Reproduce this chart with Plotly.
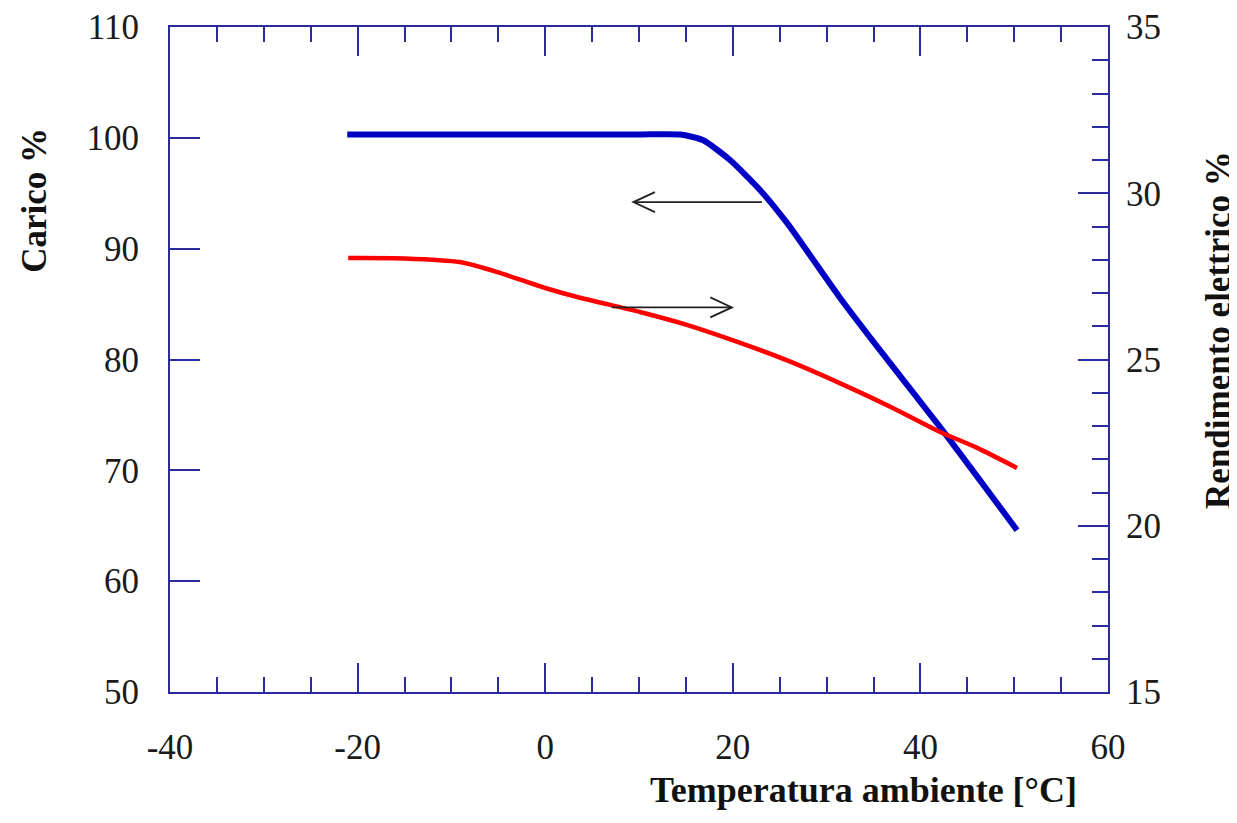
import plotly.graph_objects as go

# Data
temp_carico = [-21.1, -10.0, 0.0, 10.0, 14.4, 16.8, 19.7, 22.9, 25.8, 31.4, 36.0, 42.1, 46.0, 50.3]
carico = [100.3, 100.3, 100.3, 100.3, 100.3, 99.8, 98.0, 95.3, 92.3, 85.6, 80.5, 73.9, 69.5, 64.6]

temp_rend = [-21.0, -15.0, -9.1, -5.1, 0.0, 3.4, 10.1, 15.0, 20.8, 26.0, 31.4, 37.0, 42.1, 46.0, 50.3]
rendimento = [28.05, 28.04, 27.93, 27.63, 27.15, 26.88, 26.43, 26.05, 25.50, 24.95, 24.29, 23.55, 22.82, 22.35, 21.74]

x_ticks = [-40, -20, 0, 20, 40, 60]
x_ticktext = ["-40", "-20", "0", "20", "40", "60"]
y_ticks = [50, 60, 70, 80, 90, 100, 110]
y2_ticks = [15, 20, 25, 30, 35]

x_title = "Temperatura ambiente [°C]"
y_title = "Carico %"
y2_title = "Rendimento elettrico %"

# Arrows (tail, head) in data coordinates of x / left y
arrow_left = dict(tail=(23.1, 94.2), head=(9.4, 94.2))
arrow_right = dict(tail=(7.1, 84.7), head=(19.9, 84.7))

AX = "#2b2b9e"
FONT = "Liberation Serif"

fig = go.Figure()
fig.add_trace(go.Scatter(x=temp_carico, y=carico, mode="lines",
                         line=dict(color="#0000c4", width=6, shape="spline", smoothing=0.6),
                         showlegend=False))
fig.add_trace(go.Scatter(x=temp_rend, y=rendimento, mode="lines", yaxis="y2",
                         line=dict(color="#ff0000", width=4.5, shape="spline", smoothing=0.6),
                         showlegend=False))


def arrow_shapes(a):
    (tx, ty), (hx, hy) = a["tail"], a["head"]
    d = 1 if tx > hx else -1
    dx, dy = 2.3 * d, 0.9
    return [
        dict(type="line", xref="x", yref="y", x0=tx, y0=ty, x1=hx, y1=hy,
             line=dict(color="#222222", width=1.8)),
        dict(type="path", xref="x", yref="y",
             path=f"M {hx+dx},{hy+dy} L {hx},{hy} L {hx+dx},{hy-dy}",
             line=dict(color="#222222", width=1.8)),
    ]


shapes = arrow_shapes(arrow_left) + arrow_shapes(arrow_right)

fig.update_layout(
    width=1229, height=807,
    margin=dict(l=162, r=129, t=19, b=123, autoexpand=False),
    paper_bgcolor="white", plot_bgcolor="white",
    font=dict(family=FONT, size=35, color="#1a1a1a"),
    xaxis=dict(range=[-40, 60], tickvals=x_ticks, ticktext=x_ticktext, ticks="inside",
               ticklen=29, tickwidth=2, tickcolor=AX, showline=True, linecolor=AX,
               linewidth=2, mirror="ticks", showgrid=False, zeroline=False,
               ticklabelstandoff=23, automargin=False,
               minor=dict(dtick=5, tick0=0, ticks="inside", ticklen=15,
                          tickwidth=2, tickcolor=AX, showgrid=False)),
    yaxis=dict(range=[50, 110], tickvals=y_ticks, ticks="inside", ticklen=30,
               tickwidth=2, tickcolor=AX, showline=True, linecolor=AX, linewidth=2,
               showgrid=False, zeroline=False, ticklabelstandoff=22, automargin=False),
    yaxis2=dict(range=[15, 35], tickvals=y2_ticks, ticks="inside", ticklen=30,
                tickwidth=2, tickcolor=AX, showline=True, linecolor=AX, linewidth=2,
                overlaying="y", side="right", showgrid=False, zeroline=False,
                ticklabelstandoff=9, automargin=False,
                minor=dict(dtick=1, tick0=0, ticks="inside", ticklen=16,
                           tickwidth=2, tickcolor=AX, showgrid=False)),
    shapes=shapes,
    annotations=[
        dict(text=f"<b>{x_title}</b>", xref="paper", yref="paper", x=0.739, y=-0.1805,
             xanchor="center", yanchor="bottom", showarrow=False,
             font=dict(family=FONT, size=36, color="#111111")),
        dict(text=f"<b>{y_title}</b>", xref="paper", yref="paper", x=-0.144, y=0.74,
             xanchor="center", yanchor="middle", textangle=-90, showarrow=False,
             font=dict(family=FONT, size=35, color="#111111")),
        dict(text=f"<b>{y2_title}</b>", xref="paper", yref="paper", x=1.118, y=0.544,
             xanchor="center", yanchor="middle", textangle=-90, showarrow=False,
             font=dict(family=FONT, size=35, color="#111111")),
    ],
)

fig.write_html("out.html")
